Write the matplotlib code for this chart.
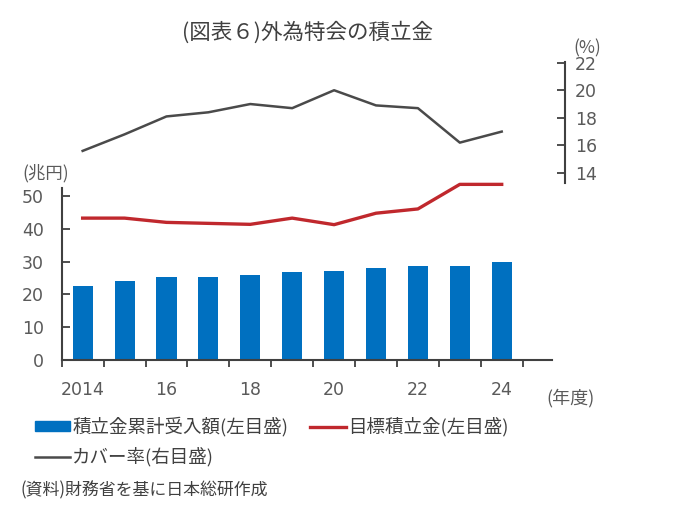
import matplotlib
matplotlib.use("Agg")
import matplotlib.pyplot as plt
from matplotlib.patches import Patch
from matplotlib.lines import Line2D
import numpy as np

plt.rcParams['font.family'] = ['Noto Sans CJK JP', 'DejaVu Sans']

# data
years = [2014, 2015, 2016, 2017, 2018, 2019, 2020, 2021, 2022, 2023, 2024]
year_labels = ['2014', '', '16', '', '18', '', '20', '', '22', '', '24']
reserve = [22.5, 24.0, 25.3, 25.3, 25.8, 26.9, 27.3, 28.0, 28.7, 28.7, 29.8]   # 積立金累計受入額 (兆円)
target = [43.3, 43.3, 42.0, 41.7, 41.4, 43.3, 41.3, 44.8, 46.1, 53.6, 53.6]    # 目標積立金 (兆円)
cover = [15.6, 16.8, 18.1, 18.4, 19.0, 18.7, 20.0, 18.9, 18.7, 16.2, 17.0]     # カバー率 (%)

W, H = 680, 532
fig = plt.figure(figsize=(6.8, 5.32), dpi=100)

def fx(px):
    return px / W

def fy(py):
    return 1 - py / H

tc = '#5a5a5a'
sc = '#404040'
num_font = 'DejaVu Sans'
x = np.arange(len(years))

# lower panel: bars + target line (left scale)
ax = fig.add_axes([fx(61.7), fy(360), fx(552) - fx(61.7), fy(188.3) - fy(360)])
ax.bar(x, reserve, width=0.48, color='#0070C0', zorder=2)
ax.plot(x, target, color='#C0282D', lw=2.4, clip_on=False, zorder=3)
ax.set_xlim(-0.5, 11.2)
ax.set_ylim(0, 52.4)
ax.set_yticks([0, 10, 20, 30, 40, 50])
ax.set_xticks(np.arange(-0.5, 11, 1))
ax.set_xticklabels([])
ax.set_xticks(x, minor=True)
ax.set_xticklabels(year_labels, minor=True)
ax.tick_params(axis='x', which='major', direction='out', length=5, width=1.3, color=sc)
ax.tick_params(axis='x', which='minor', length=0, pad=15, labelsize=12.5, labelcolor=tc)
ax.tick_params(axis='y', direction='in', length=6, width=1.3, color=sc, pad=13,
               labelsize=12.5, labelcolor=tc)
for lab in ax.get_xticklabels(minor=True) + ax.get_yticklabels():
    lab.set_fontfamily(num_font)
for s in ['top', 'right']:
    ax.spines[s].set_visible(False)
for s in ['left', 'bottom']:
    ax.spines[s].set_color(sc)
    ax.spines[s].set_linewidth(1.5)

# upper panel: cover ratio (right scale)
ax2 = fig.add_axes([fx(61.7), fy(183), fx(565) - fx(61.7), fy(62) - fy(183)])
ax2.plot(x, cover, color='#4a4a4a', lw=1.8)
ax2.set_xlim(-0.5, 11.51)
ax2.set_ylim(13.27, 22.05)
ax2.set_yticks([14, 16, 18, 20, 22])
ax2.yaxis.tick_right()
ax2.set_xticks([])
ax2.tick_params(axis='y', direction='in', length=6, width=1.3, color=sc, pad=7,
                labelsize=12.5, labelcolor=tc)
for lab in ax2.get_yticklabels():
    lab.set_fontfamily(num_font)
for s in ['top', 'left', 'bottom']:
    ax2.spines[s].set_visible(False)
ax2.spines['right'].set_color(sc)
ax2.spines['right'].set_linewidth(1.5)
ax2.patch.set_alpha(0)

# texts
fig.text(fx(308), fy(33), '(図表６)外為特会の積立金', ha='center', va='center',
         fontsize=15.5, color='#404040')
fig.text(fx(587), fy(48), '(%)', ha='center', va='center', fontsize=12.5, color=tc)
fig.text(fx(46), fy(173), '(兆円)', ha='center', va='center', fontsize=12.5, color=tc)
fig.text(fx(571), fy(398), '(年度)', ha='center', va='center', fontsize=13, color=tc)
fig.text(fx(20), fy(490), '(資料)財務省を基に日本総研作成', ha='left', va='center',
         fontsize=12.2, color='#404040')

handles = [Patch(color='#0070C0'),
           Line2D([], [], color='#4a4a4a', lw=1.8),
           Line2D([], [], color='#C0282D', lw=2.4)]
labels = ['積立金累計受入額(左目盛)', 'カバー率(右目盛)', '目標積立金(左目盛)']
fig.legend(handles, labels, ncol=2, loc='upper left',
           bbox_to_anchor=(fx(35), fy(417)), frameon=False, fontsize=13.3,
           handlelength=1.9, handleheight=0.45, handletextpad=0.12,
           columnspacing=1.2, labelspacing=0.55, borderpad=0, borderaxespad=0,
           labelcolor='#404040')

fig.savefig('out.png', dpi=100)
